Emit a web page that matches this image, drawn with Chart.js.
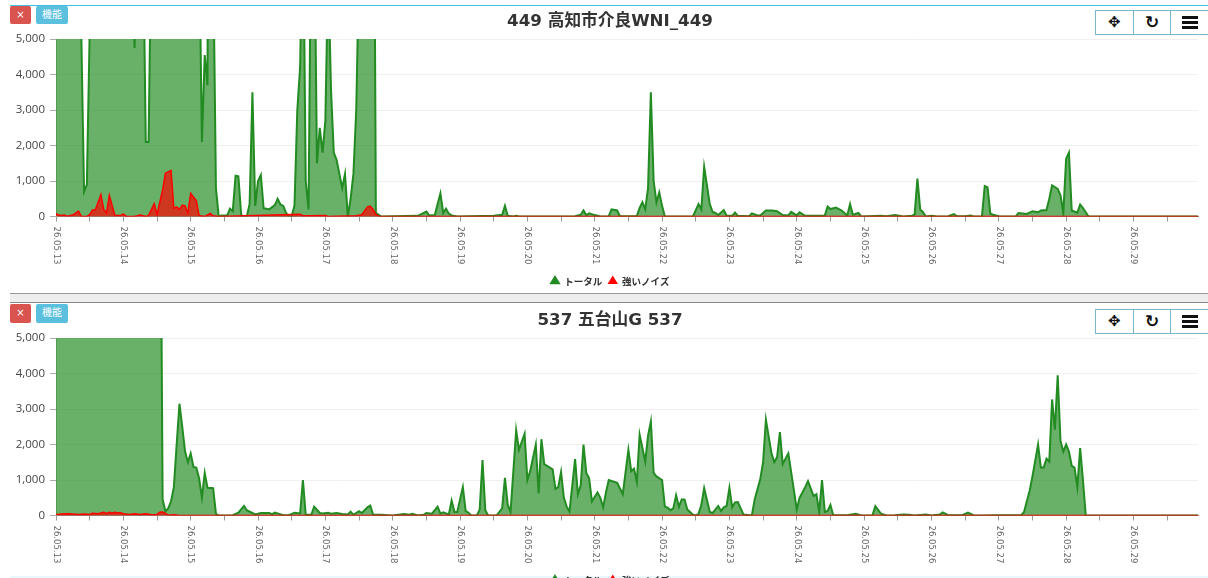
<!DOCTYPE html>
<html>
<head>
<meta charset="utf-8">
<script src="https://cdn.jsdelivr.net/npm/chart.js@4"></script>
<style>
html, body { margin: 0; padding: 0; background: #fff; }
#page { position: relative; width: 1208px; height: 578px; overflow: hidden; background: #fff; font-family: "DejaVu Sans", "Noto Sans CJK JP", sans-serif; }
canvas { position: absolute; left: 0; }
.line { position: absolute; left: 10px; right: 0; }
.btn { position: absolute; height: 18px; line-height: 18px; color: #fff; text-align: center; border-radius: 2px; font-size: 10px; }
.red { left: 10px; width: 21px; background: #d9534f; }
.blue { left: 36px; width: 32px; background: #5bc0de; }
.tools { position: absolute; left: 1095px; width: 112px; height: 23px; display: flex; border: 1px solid #7db6cf; background: #fff; }
.tools div { flex: 1; text-align: center; line-height: 23px; font-weight: bold; color: #111; border-left: 1px solid #7db6cf; }
.tools div:first-child { border-left: 0; font-size: 15px; }
.tools div:nth-child(2) { font-size: 17px; }
.tools span { display: block; width: 16px; height: 13px; margin: 5px auto 0; background: repeating-linear-gradient(#111 0 3px, transparent 3px 5px); }
</style>
</head>
<body>
<div id="page">
  <div class="line" style="top:5px;height:1px;background:#3fc0de"></div>
  <div class="line" style="top:293px;height:8px;background:#eeeeee;border-top:1px solid #999;border-bottom:1px solid #888"></div>
  <div class="line" style="top:576px;height:2px;background:#eaf8fc"></div>
  <canvas id="chart1" width="1220" height="300" style="top:0"></canvas>
  <canvas id="chart2" width="1220" height="300" style="top:299px"></canvas>
  <div class="btn red" style="top:6px">×</div>
  <div class="btn blue" style="top:6px">機能</div>
  <div class="tools" style="top:10px"><div>✥</div><div>↻</div><div><span></span></div></div>
  <div class="btn red" style="top:304px;height:19px">×</div>
  <div class="btn blue" style="top:304px;height:19px">機能</div>
  <div class="tools" style="top:309px"><div>✥</div><div>↻</div><div><span></span></div></div>
</div>
<script>
// 横軸は 05.13 00:00 からの経過時間、各点は [時間, 値]
const dayLabels = ['26.05.13','26.05.14','26.05.15','26.05.16','26.05.17','26.05.18','26.05.19','26.05.20','26.05.21','26.05.22','26.05.23','26.05.24','26.05.25','26.05.26','26.05.27','26.05.28','26.05.29'];
const seriesNames = ['トータル', '強いノイズ'];
const titles = ['449 高知市介良WNI_449', '537 五台山G 537'];

const total1 = [[0,9000],[8,9000],[9,5200],[10,700],[11,900],[12,5200],[13,8000],[27,8000],[28,4750],[29,8000],[31,8000],[32,2100],[33,2100],[34,8000],[51,8000],[52,2100],[53,4550],[54,3700],[55,40000],[56,7500],[57,800],[58,0],
  [59,30],[61,30],[62,220],[63,150],[64,1150],[65,1130],[66,50],[67,0],[68,0],[69,350],[70,3500],[71,300],[72,1000],[73,1170],[74,230],[75,220],[76,200],[78,320],[79,500],[80,340],[81,300],[82,100],[83,0],[84,0],
  [85,320],[86,3000],[87,4200],[88,9000],[89,1000],[90,200],[91,9000],[92,9000],[93,1500],[94,2500],[95,1800],[96,2700],[97,7000],[98,3600],[99,1800],[100,1600],[101,1200],[102,800],[103,1200],[104,0],[105,500],[106,1200],[107,3000],[108,7000],[113,16000],[114,100],[115,50],[116,0],
  [129,20],[132,140],[133,30],[135,40],[137,650],[138,100],[139,220],[140,80],[141,30],[143,0],[156,20],[159,50],[160,300],[161,20],[163,0],[164,20],[165,0],
  [185,10],[187,50],[188,170],[189,40],[190,90],[192,40],[194,0],[197,10],[198,200],[200,170],[201,10],[203,10],[207,10],[208,240],[209,400],[210,200],[211,800],[212,3500],[213,1000],[214,400],[215,680],[216,300],[217,0],
  [227,0],[229,350],[230,200],[231,1400],[233,350],[234,130],[235,100],[236,40],[238,180],[239,20],[241,20],[242,110],[243,20],[247,10],[248,90],[250,30],[251,30],[253,170],[255,170],[256,160],[257,150],[259,40],[261,30],[262,130],[264,30],[265,120],[267,20],
  [270,20],[272,20],[274,30],[275,280],[276,210],[278,250],[280,170],[282,30],[283,350],[284,50],[286,100],[287,0],[294,20],[296,10],[299,40],[302,0],[305,20],[306,50],[307,1070],[308,200],[309,120],[310,0],[312,20],[314,0],
  [318,10],[320,70],[321,10],[324,10],[326,30],[327,0],[330,10],[331,860],[332,820],[333,80],[334,50],[336,10],[338,0],[342,0],[343,100],[346,70],[348,150],[350,120],[351,170],[353,180],[354,500],[355,880],[357,780],[358,600],[359,100],[360,1630],[361,1800],[362,170],[364,110],[365,340],[366,240],[368,0],[407,0]];

const noise1 = [[0,80],[1,40],[2,30],[3,40],[4,10],[6,40],[8,150],[9,10],[11,0],[12,50],[13,180],[14,180],[16,620],[17,200],[18,100],[19,600],[21,30],[23,30],[24,70],[25,10],[28,0],[30,40],[32,0],[33,30],[35,360],[36,60],[38,750],[39,1220],[41,1300],[42,230],[43,270],[44,200],[45,320],[46,300],[47,100],[48,650],[50,450],[51,30],[53,0],[55,90],[56,20],[58,0],
  [87,60],[88,20],[90,20],[91,20],[96,30],[97,0],[107,20],[109,50],[111,270],[112,290],[113,200],[114,60],[115,10],[116,0],[407,0]];

const total2 = [[0,12000],[37,12600],[38,450],[39,120],[40,200],[41,400],[42,800],[43,2000],[44,3150],[45,2500],[46,1800],[47,1500],[48,1750],[49,1370],[50,1350],[51,1050],[52,500],[53,1200],[54,780],[56,770],[57,50],[58,0],
  [63,10],[65,80],[67,270],[68,150],[71,30],[73,70],[76,70],[77,40],[78,80],[79,60],[81,10],[83,10],[85,80],[87,60],[88,1000],[89,20],[91,20],[92,250],[94,70],[95,60],[97,80],[98,50],[100,70],[102,40],[104,30],[105,110],[106,20],[108,120],[109,70],[111,230],[112,280],[113,30],[116,20],[118,10],[120,0],
  [124,40],[126,20],[127,50],[129,0],[131,20],[132,70],[134,50],[136,250],[137,50],[138,90],[140,30],[141,420],[142,100],[143,100],[145,800],[146,130],[147,80],[148,0],[150,0],[151,170],[152,1560],[153,150],[154,0],[157,0],
  [159,200],[160,1060],[161,300],[162,100],[164,2400],[165,1850],[167,2300],[168,1000],[169,1250],[171,2000],[172,620],[173,2150],[174,1450],[175,1400],[177,1300],[178,750],[179,800],[180,1230],[181,500],[182,250],[183,110],
  [185,1590],[186,600],[187,850],[188,2000],[189,1200],[190,1050],[191,400],[193,650],[194,500],[195,230],[196,650],[197,1000],[200,920],[202,600],[204,1850],[205,1250],[206,1320],[207,950],[208,2280],[210,1520],[211,2250],[212,2650],[213,1200],[214,1100],[216,1000],[217,250],
  [218,220],[219,150],[220,200],[221,570],[222,250],[223,450],[224,450],[225,170],[227,20],[228,0],[229,50],[230,300],[231,770],[233,100],[234,70],[236,270],[237,130],[238,230],[239,270],[240,780],[241,230],[242,370],[243,380],[245,30],[248,0],
  [249,450],[251,1030],[252,1500],[253,2700],[255,1750],[256,1500],[257,1650],[258,2350],[259,1450],[261,1750],[263,700],[264,170],[265,500],[267,800],[268,970],[270,550],[271,600],[272,100],[273,1000],[274,100],[275,130],[276,300],[277,10],
  [282,10],[285,50],[287,0],[291,10],[292,260],[294,50],[296,0],[299,10],[302,30],[304,20],[306,0],[310,30],[312,0],[315,30],[316,90],[318,10],[323,10],[325,80],[327,10],[330,0],[335,10],[344,10],
  [345,100],[346,400],[347,700],[348,1100],[350,2000],[351,1350],[352,1350],[353,1600],[354,1520],[355,3270],[356,2420],[357,3950],[358,2100],[359,1800],[360,2000],[361,1800],[362,1400],[363,1350],[364,800],[365,1900],[366,1000],[367,0],[407,0]];

const noise2 = [[0,30],[2,40],[4,50],[6,40],[8,30],[10,40],[12,30],[13,60],[15,50],[17,90],[18,60],[19,90],[20,70],[21,90],[22,70],[23,80],[24,50],[26,30],[28,50],[30,30],[32,50],[34,20],[36,30],[37,90],[38,100],[39,60],[40,10],[42,20],[44,0],[407,0]];

// 横軸の目盛りは上から下へ読む向きなので自前で描く
const dayLabelPlugin = {
    id: 'dayLabels',
    afterDraw(chart) {
        const scale = chart.scales.x;
        const ctx = chart.ctx;
        ctx.save();
        ctx.font = '8.5px "DejaVu Sans"';
        ctx.fillStyle = '#666';
        ctx.textAlign = 'left';
        ctx.textBaseline = 'middle';
        dayLabels.forEach((label, i) => {
            ctx.save();
            ctx.translate(scale.getPixelForValue(i * 24), scale.top + 10);
            ctx.rotate(Math.PI / 2);
            ctx.fillText(label, 0, 0);
            ctx.restore();
        });
        ctx.restore();
    }
};

function points(pairs) {
    return pairs.map(p => ({ x: p[0], y: p[1] }));
}

function makeChart(id, title, total, noise) {
    return new Chart(document.getElementById(id).getContext('2d'), {
        type: 'line',
        data: {
            datasets: [
                {
                    label: seriesNames[0],
                    data: points(total),
                    borderColor: '#228b22',
                    backgroundColor: 'rgba(34,139,34,0.68)',
                    borderWidth: 2,
                    pointRadius: 0,
                    tension: 0,
                    fill: 'origin',
                    order: 1
                },
                {
                    label: seriesNames[1],
                    data: points(noise),
                    borderColor: '#ff0000',
                    backgroundColor: 'rgba(255,0,0,0.68)',
                    borderWidth: 1.5,
                    pointRadius: 0,
                    tension: 0,
                    fill: 'origin',
                    order: 0
                }
            ]
        },
        options: {
            responsive: false,
            animation: false,
            layout: { padding: { left: 0, right: 0, top: 0, bottom: 4 } },
            scales: {
                x: {
                    type: 'linear',
                    min: 0,
                    max: 407,
                    z: 1,
                    afterFit: s => { s.height = 54; },
                    border: { color: '#a47a70' },
                    grid: { drawOnChartArea: false, tickLength: 5, tickColor: '#999999' },
                    ticks: { display: false, stepSize: 12, includeBounds: false }
                },
                y: {
                    min: 0,
                    max: 5000,
                    afterFit: s => { s.width = 56; },
                    border: { color: '#bbbbbb' },
                    grid: { color: '#f0f0f0', tickColor: '#aaaaaa', tickLength: 6 },
                    ticks: {
                        stepSize: 1000,
                        color: '#444',
                        padding: 5,
                        font: { family: '"Open Sans"', size: 11.5 },
                        callback: v => v.toLocaleString('en-US')
                    }
                },
                // 右側の余白用（タイトルと凡例を x=610 に中央寄せ）
                spacer: {
                    position: 'right',
                    afterFit: s => { s.width = 22; },
                    border: { display: false },
                    grid: { display: false },
                    ticks: { display: false }
                }
            },
            plugins: {
                title: {
                    display: true,
                    text: title,
                    color: '#333',
                    font: { family: '"DejaVu Sans", "Noto Sans CJK JP"', size: 16.7, weight: 'bold' },
                    padding: { top: 12, bottom: 7 }
                },
                legend: {
                    position: 'bottom',
                    labels: {
                        usePointStyle: true,
                        pointStyle: 'triangle',
                        pointStyleWidth: 9,
                        color: '#333',
                        boxHeight: 6,
                        padding: 6,
                        font: { family: '"Noto Sans CJK JP"', size: 9.5, weight: 'bold' },
                        sort: (a, b) => a.datasetIndex - b.datasetIndex,
                        generateLabels(chart) {
                            const items = Chart.defaults.plugins.legend.labels.generateLabels(chart);
                            items.forEach(item => {
                                const color = chart.data.datasets[item.datasetIndex].borderColor;
                                item.fillStyle = color;
                                item.strokeStyle = color;
                            });
                            return items;
                        }
                    }
                },
                tooltip: { enabled: false }
            }
        },
        plugins: [dayLabelPlugin]
    });
}

makeChart('chart1', titles[0], total1, noise1);
makeChart('chart2', titles[1], total2, noise2);
</script>
</body>
</html>
